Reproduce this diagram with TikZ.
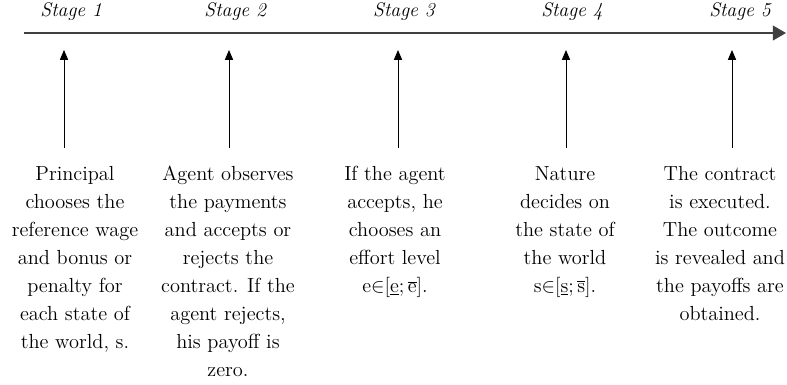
\documentclass[tikz,border=0pt]{standalone}
\usetikzlibrary{arrows}

\tikzstyle{stage} = [font=\fontsize{14}{16}\selectfont\itshape]
\tikzstyle{event} = [anchor=north, align=center, inner sep=0pt, font=\fontsize{14.5}{19.9}\selectfont]
\tikzstyle{time} = [draw=black!75, line width=1.6pt, -triangle 60]
\tikzstyle{up} = [draw, semithick, -triangle 45]

\begin{document}
\begin{tikzpicture}
	\useasboundingbox (0,0) rectangle (19.675,-9.6);
	% timeline
	\coordinate (start) at (0.6,-0.825);
	\coordinate (end) at (19.65,-0.825);
	\draw[time] (start) -- (end);

	\node[stage] (stage1) at (1.78,-0.3) {Stage 1};
	\node[stage] (stage2) at (5.88,-0.3) {Stage 2};
	\node[stage] (stage3) at (10.1,-0.3) {Stage 3};
	\node[stage] (stage4) at (14.3,-0.3) {Stage 4};
	\node[stage] (stage5) at (18.5,-0.3) {Stage 5};

	% arrows up to the timeline
	\coordinate (b1) at (1.6,-3.7);   \coordinate (t1) at (1.6,-1.25);
	\coordinate (b2) at (5.725,-3.7); \coordinate (t2) at (5.725,-1.25);
	\coordinate (b3) at (9.95,-3.7);  \coordinate (t3) at (9.95,-1.25);
	\coordinate (b4) at (14.15,-3.7); \coordinate (t4) at (14.15,-1.25);
	\coordinate (b5) at (18.3,-3.7);  \coordinate (t5) at (18.3,-1.25);
	\draw[up] (b1) -- (t1);
	\draw[up] (b2) -- (t2);
	\draw[up] (b3) -- (t3);
	\draw[up] (b4) -- (t4);
	\draw[up] (b5) -- (t5);

	\node[event] (ev1) at (1.875,-4.15) {Principal\\chooses the\\reference wage\\and bonus or\\penalty for\\each state of\\the world, s.};
	\node[event] (ev2) at (5.7,-4.15) {Agent observes\\the payments\\and accepts or\\rejects the\\contract. If the\\agent rejects,\\his payoff is\\zero.};
	\node[event] (ev3) at (9.875,-4.15) {If the agent\\accepts, he\\chooses an\\effort level\\$\mathrm{e}{\in}[\underline{\mathrm{e}};\overline{\mathrm{e}}]$.};
	\node[event] (ev4) at (14.125,-4.15) {Nature\\decides on\\the state of\\the world\\$\mathrm{s}{\in}[\underline{\mathrm{s}};\overline{\mathrm{s}}]$.};
	\node[event] (ev5) at (18.0,-4.15) {The contract\\is executed.\\The outcome\\is revealed and\\the payoffs are\\obtained.};
\end{tikzpicture}
\end{document}
